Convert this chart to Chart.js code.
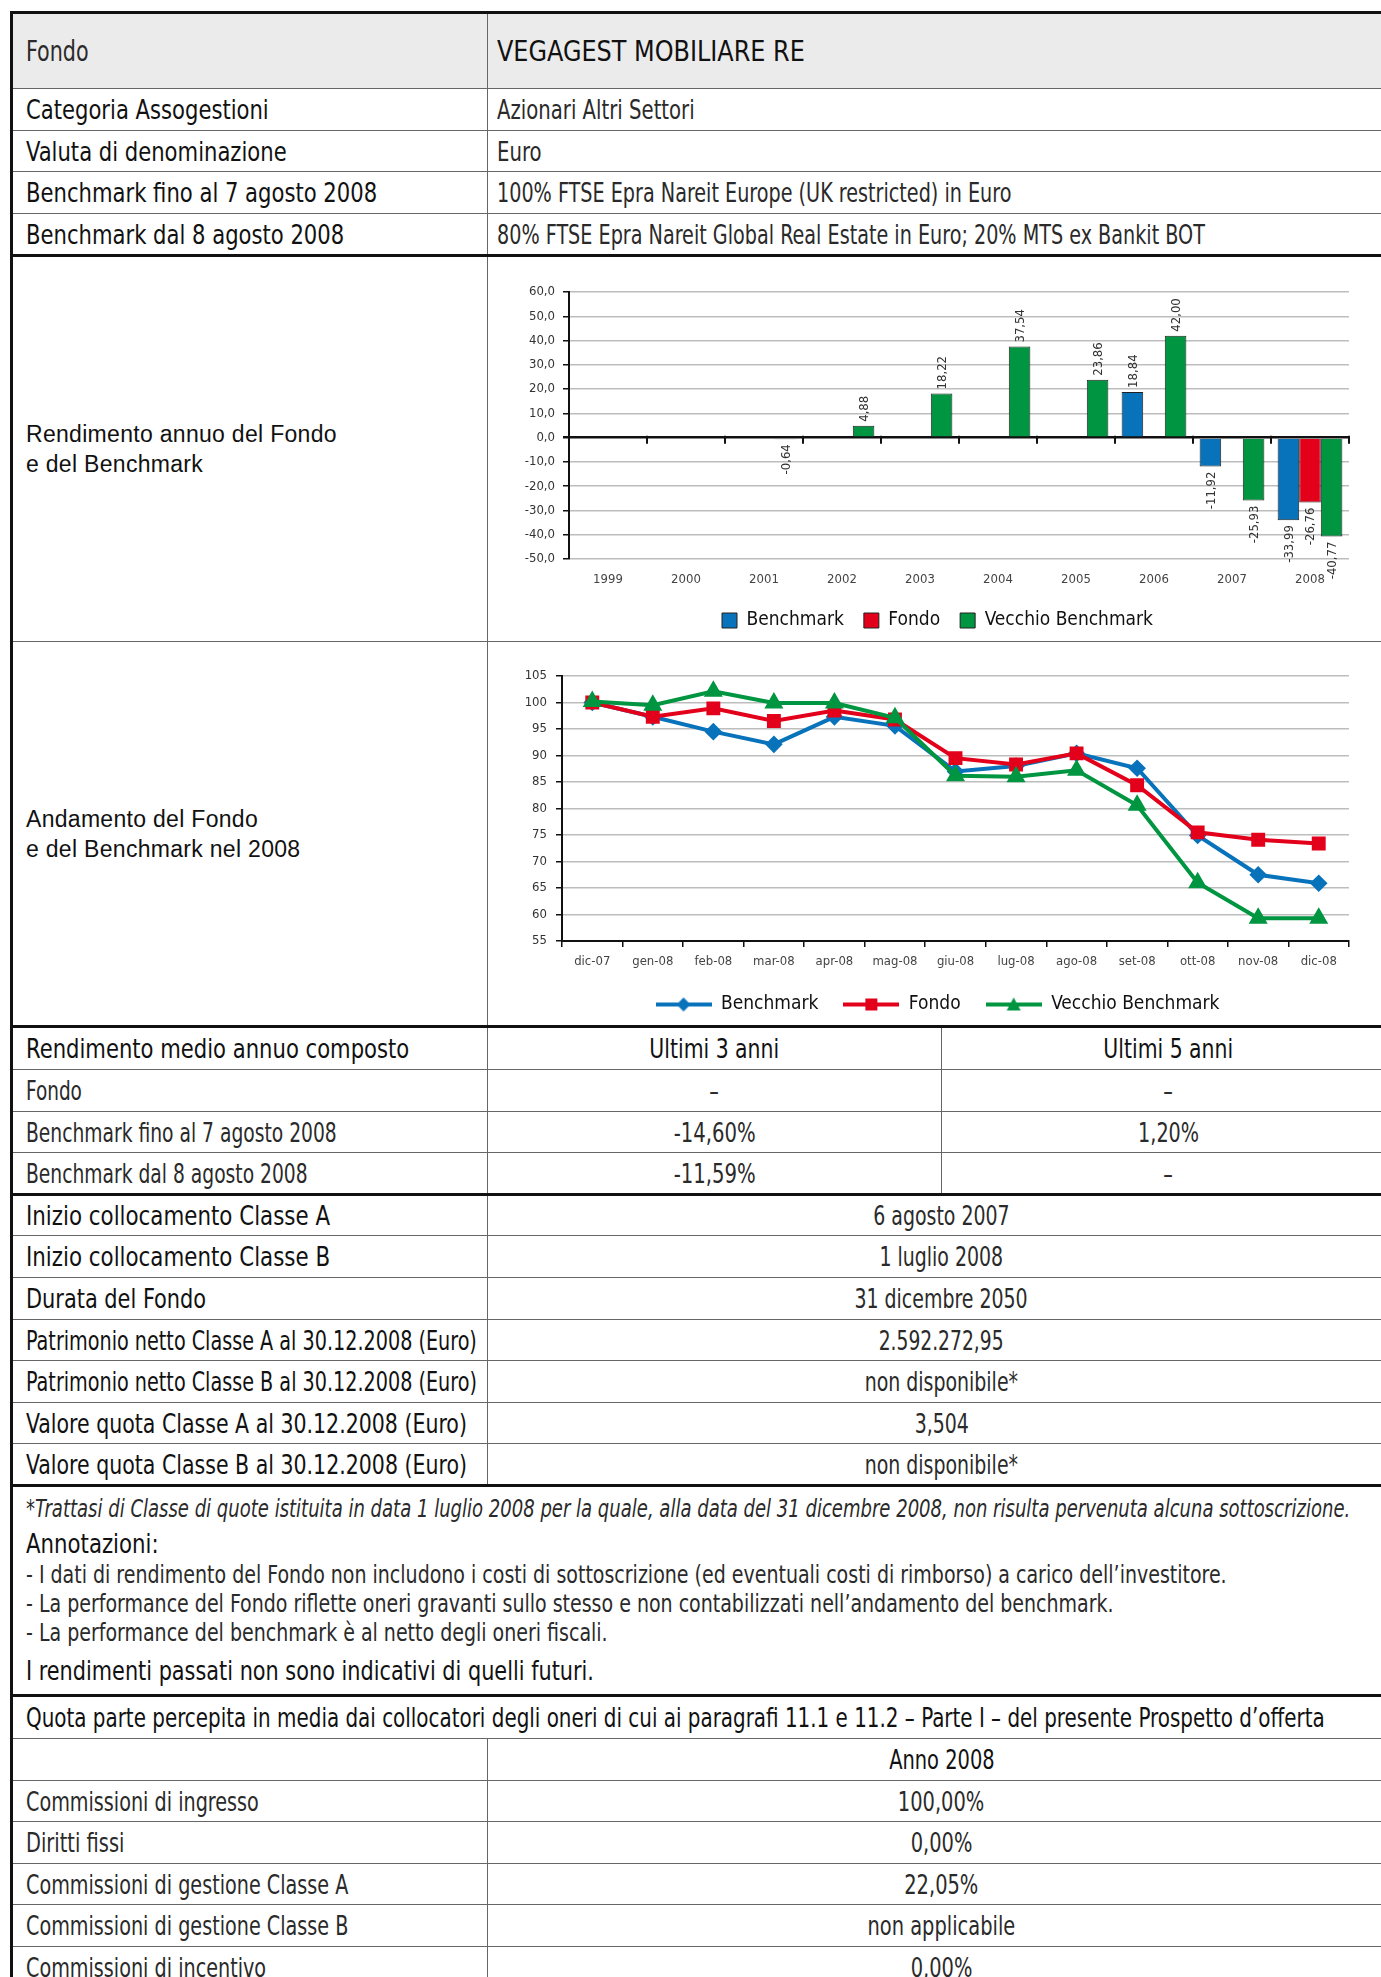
<!DOCTYPE html>
<html lang="it">
<head>
<meta charset="UTF-8">
<title>VEGAGEST MOBILIARE RE</title>
<script src="https://cdn.jsdelivr.net/npm/chart.js@4.4.1/dist/chart.umd.min.js"></script>
<style>
  html, body { margin: 0; padding: 0; background: #fff; }
  body { width: 1381px; height: 1977px; overflow: hidden; position: relative;
         font-family: "DejaVu Sans Condensed", "Liberation Sans Narrow", "Arial Narrow", sans-serif; color: #161616; }
  #sheet { position: absolute; left: 10px; top: 11px; width: 1384px; border-collapse: collapse; table-layout: fixed; }
  #sheet td { border: 1px solid #666; padding: 0 0 0 13px; font-size: 27px; white-space: nowrap; vertical-align: middle; }
  #sheet td + td { padding-left: 9px; }
  #sheet td:first-child { border-left: 3px solid #111; }
  #sheet tr.head td { background: #ebebeb; border-top: 3px solid #111; font-size: 28px; }
  #sheet tr.thick td { border-bottom: 3px solid #111; }
  #sheet td.c { text-align: center; padding-left: 0; }
  #sheet td.lab { font-family: "Liberation Sans", Arial, sans-serif; font-size: 23px; letter-spacing: 0.3px; line-height: 30px; color: #111; }
  #sheet td.cc { padding: 0; vertical-align: top; }
  #sheet td.cc canvas { display: block; }
  #sheet td.notes { vertical-align: top; padding-top: 4px; }
  /* condensed look: squeeze the glyphs horizontally */
  .m, .l { display: inline-block; transform-origin: 0 50%; }
  .m { transform: scaleX(var(--k, 0.87)); color: #111; }
  .l { transform: scaleX(var(--k, 0.79)); color: #2a2a2a; }
  td.c .m, td.c .l { transform-origin: 50% 50%; }
  .foot { font-style: italic; font-size: 24px; line-height: 36px; }
  .ann { font-size: 26px; line-height: 34px; }
  .bul { font-size: 24px; line-height: 29px; }
  .last { font-size: 26px; line-height: 46px; }
</style>
</head>
<body>
<table id="sheet">
  <colgroup><col style="width:476px"><col style="width:454px"><col style="width:454px"></colgroup>
  <tr class="head" style="height:76px"><td><span class="l" style="--k:0.82">Fondo</span></td><td colspan="2"><span class="m" style="--k:0.95">VEGAGEST MOBILIARE RE</span></td></tr>
  <tr style="height:42px"><td><span class="m">Categoria Assogestioni</span></td><td colspan="2"><span class="l" style="--k:0.81">Azionari Altri Settori</span></td></tr>
  <tr style="height:41px"><td><span class="m">Valuta di denominazione</span></td><td colspan="2"><span class="l" style="--k:0.81">Euro</span></td></tr>
  <tr style="height:42px"><td><span class="m">Benchmark fino al 7 agosto 2008</span></td><td colspan="2"><span class="l">100% FTSE Epra Nareit Europe (UK restricted) in Euro</span></td></tr>
  <tr class="thick" style="height:42px"><td><span class="m">Benchmark dal 8 agosto 2008</span></td><td colspan="2"><span class="l">80% FTSE Epra Nareit Global Real Estate in Euro; 20% MTS ex Bankit BOT</span></td></tr>
  <tr style="height:386px"><td class="lab">Rendimento annuo del Fondo<br>e del Benchmark</td><td colspan="2" class="cc"><canvas id="barChart" width="899" height="384"></canvas></td></tr>
  <tr class="thick" style="height:385px"><td class="lab">Andamento del Fondo<br>e del Benchmark nel 2008</td><td colspan="2" class="cc"><canvas id="lineChart" width="899" height="382"></canvas></td></tr>
  <tr style="height:43px"><td><span class="m">Rendimento medio annuo composto</span></td><td class="c"><span class="m" style="--k:0.84">Ultimi 3 anni</span></td><td class="c"><span class="m" style="--k:0.84">Ultimi 5 anni</span></td></tr>
  <tr style="height:42px"><td><span class="l" style="--k:0.76">Fondo</span></td><td class="c"><span class="l">–</span></td><td class="c"><span class="l">–</span></td></tr>
  <tr style="height:41px"><td><span class="l" style="--k:0.77">Benchmark fino al 7 agosto 2008</span></td><td class="c"><span class="l" style="--k:0.81">-14,60%</span></td><td class="c"><span class="l">1,20%</span></td></tr>
  <tr class="thick" style="height:42px"><td><span class="l" style="--k:0.77">Benchmark dal 8 agosto 2008</span></td><td class="c"><span class="l" style="--k:0.81">-11,59%</span></td><td class="c"><span class="l">–</span></td></tr>
  <tr style="height:41px"><td><span class="m" style="--k:0.88">Inizio collocamento Classe A</span></td><td colspan="2" class="c"><span class="l" style="--k:0.78">6 agosto 2007</span></td></tr>
  <tr style="height:42px"><td><span class="m" style="--k:0.88">Inizio collocamento Classe B</span></td><td colspan="2" class="c"><span class="l" style="--k:0.78">1 luglio 2008</span></td></tr>
  <tr style="height:42px"><td><span class="m" style="--k:0.86">Durata del Fondo</span></td><td colspan="2" class="c"><span class="l" style="--k:0.78">31 dicembre 2050</span></td></tr>
  <tr style="height:41px"><td><span class="m" style="--k:0.79">Patrimonio netto Classe A al 30.12.2008 (Euro)</span></td><td colspan="2" class="c"><span class="l" style="--k:0.77">2.592.272,95</span></td></tr>
  <tr style="height:42px"><td><span class="m" style="--k:0.79">Patrimonio netto Classe B al 30.12.2008 (Euro)</span></td><td colspan="2" class="c"><span class="l" style="--k:0.78">non disponibile*</span></td></tr>
  <tr style="height:41px"><td><span class="m" style="--k:0.845">Valore quota Classe A al 30.12.2008 (Euro)</span></td><td colspan="2" class="c"><span class="l" style="--k:0.78">3,504</span></td></tr>
  <tr class="thick" style="height:42px"><td><span class="m" style="--k:0.845">Valore quota Classe B al 30.12.2008 (Euro)</span></td><td colspan="2" class="c"><span class="l" style="--k:0.78">non disponibile*</span></td></tr>
  <tr class="thick" style="height:210px"><td colspan="3" class="notes">
    <div class="foot"><span class="l" style="--k:0.835">*Trattasi di Classe di quote istituita in data 1 luglio 2008 per la quale, alla data del 31 dicembre 2008, non risulta pervenuta alcuna sottoscrizione.</span></div>
    <div class="ann"><span class="m" style="--k:0.91">Annotazioni:</span></div>
    <div class="bul"><span class="l" style="--k:0.88">- I dati di rendimento del Fondo non includono i costi di sottoscrizione (ed eventuali costi di rimborso) a carico dell’investitore.</span></div>
    <div class="bul"><span class="l" style="--k:0.88">- La performance del Fondo riflette oneri gravanti sullo stesso e non contabilizzati nell’andamento del benchmark.</span></div>
    <div class="bul"><span class="l" style="--k:0.88">- La performance del benchmark è al netto degli oneri fiscali.</span></div>
    <div class="last"><span class="m" style="--k:0.89">I rendimenti passati non sono indicativi di quelli futuri.</span></div>
  </td></tr>
  <tr style="height:43px"><td colspan="3"><span class="m" style="--k:0.82">Quota parte percepita in media dai collocatori degli oneri di cui ai paragrafi 11.1 e 11.2 – Parte I – del presente Prospetto d’offerta</span></td></tr>
  <tr style="height:42px"><td></td><td colspan="2" class="c"><span class="m" style="--k:0.8">Anno 2008</span></td></tr>
  <tr style="height:41px"><td><span class="l">Commissioni di ingresso</span></td><td colspan="2" class="c"><span class="l" style="--k:0.8">100,00%</span></td></tr>
  <tr style="height:42px"><td><span class="l" style="--k:0.8">Diritti fissi</span></td><td colspan="2" class="c"><span class="l" style="--k:0.8">0,00%</span></td></tr>
  <tr style="height:41px"><td><span class="l">Commissioni di gestione Classe A</span></td><td colspan="2" class="c"><span class="l" style="--k:0.8">22,05%</span></td></tr>
  <tr style="height:42px"><td><span class="l">Commissioni di gestione Classe B</span></td><td colspan="2" class="c"><span class="l" style="--k:0.8">non applicabile</span></td></tr>
  <tr style="height:42px"><td><span class="l">Commissioni di incentivo</span></td><td colspan="2" class="c"><span class="l" style="--k:0.8">0,00%</span></td></tr>
</table>

<script>
// annual returns (bar chart)
var barYears = ['1999', '2000', '2001', '2002', '2003', '2004', '2005', '2006', '2007', '2008'];
var barBenchmark = [null, null, null, null, null, null, null, 18.84, -11.92, -33.99];
var barFondo = [null, null, null, null, null, null, null, null, null, -26.76];
var barVecchio = [null, null, -0.64, 4.88, 18.22, 37.54, 23.86, 42.00, -25.93, -40.77];

// 2008 performance (line chart)
var lineMonths = ['dic-07', 'gen-08', 'feb-08', 'mar-08', 'apr-08', 'mag-08', 'giu-08', 'lug-08', 'ago-08', 'set-08', 'ott-08', 'nov-08', 'dic-08'];
var lineBenchmark = [100.0, 97.3, 94.5, 92.1, 97.3, 95.6, 87.0, 88.0, 90.4, 87.6, 74.9, 67.5, 65.9];
var lineFondo = [100.0, 97.3, 98.9, 96.5, 98.5, 96.8, 89.5, 88.3, 90.4, 84.4, 75.5, 74.1, 73.4];
var lineVecchio = [100.2, 99.5, 102.1, 99.9, 99.9, 97.1, 86.2, 86.0, 87.2, 80.6, 66.0, 59.3, 59.3];

var NARROW = '"DejaVu Sans Condensed", "Liberation Sans Narrow", "Arial Narrow", sans-serif';
var BLUE = '#0873bb';
var RED = '#e3001b';
var GREEN = '#009540';

Chart.defaults.font.family = NARROW;
Chart.defaults.animation = false;

function commaFmt(v, d) {
  return v.toFixed(d).replace('.', ',');
}

/* rotated value labels on the bars */
var barValueLabels = {
  id: 'barValueLabels',
  afterDatasetsDraw: function(chart) {
    var ctx = chart.ctx;
    chart.data.datasets.forEach(function(ds, i) {
      var meta = chart.getDatasetMeta(i);
      meta.data.forEach(function(bar, j) {
        var v = ds.data[j];
        if (v == null) {
          return;
        }
        ctx.save();
        ctx.translate(bar.x + 1, v >= 0 ? bar.y - 4 : bar.y + 5);
        ctx.rotate(-Math.PI / 2);
        ctx.textAlign = v >= 0 ? 'left' : 'right';
        ctx.textBaseline = 'middle';
        ctx.font = '13px ' + NARROW;
        ctx.fillStyle = '#333';
        ctx.fillText(commaFmt(v, 2), 0, 0);
        ctx.restore();
      });
    });
  }
};

/* small tick marks on the zero line between the years */
var zeroTicks = {
  id: 'zeroTicks',
  afterDraw: function(chart) {
    var xs = chart.scales.x, ys = chart.scales.y, ctx = chart.ctx;
    var y0 = ys.getPixelForValue(0);
    var n = chart.data.labels.length;
    ctx.save();
    ctx.strokeStyle = '#111';
    ctx.lineWidth = 2;
    for (var i = 1; i <= n; i++) {
      var x = xs.left + i * xs.width / n;
      ctx.beginPath();
      ctx.moveTo(x, y0 - 2);
      ctx.lineTo(x, y0 + 6);
      ctx.stroke();
    }
    ctx.restore();
  }
};

var spacerAxis = {
  position: 'right', display: true,
  grid: { display: false, drawTicks: false },
  border: { display: false },
  ticks: { display: false },
  afterFit: function(s) { s.width = 38; }
};

new Chart(document.getElementById('barChart'), {
  type: 'bar',
  data: {
    labels: barYears,
    datasets: [
      { label: 'Benchmark', data: barBenchmark, backgroundColor: BLUE, borderColor: '#222', borderWidth: 1 },
      { label: 'Fondo', data: barFondo, backgroundColor: RED, borderColor: '#222', borderWidth: 1 },
      { label: 'Vecchio Benchmark', data: barVecchio, backgroundColor: GREEN, borderColor: '#222', borderWidth: 1 }
    ]
  },
  options: {
    responsive: false,
    categoryPercentage: 0.83,
    barPercentage: 1.0,
    layout: { padding: { top: 35, right: 0, bottom: 1, left: 0 } },
    plugins: {
      legend: {
        position: 'bottom',
        labels: { boxWidth: 15, boxHeight: 15, color: '#111', padding: 20, font: { size: 19 } }
      },
      tooltip: { enabled: false }
    },
    scales: {
      x: {
        grid: { display: false },
        border: { display: false },
        ticks: { color: '#444', padding: 5, font: { size: 13 } },
        afterFit: function(s) { s.height = 32; }
      },
      y: {
        min: -50, max: 60,
        ticks: { stepSize: 10, color: '#333', padding: 8, font: { size: 13 },
                 callback: function(v) { return commaFmt(v, 1); } },
        grid: {
          color: function(c) { return c.tick && c.tick.value === 0 ? '#111' : '#bdbdbd'; },
          lineWidth: function(c) { return c.tick && c.tick.value === 0 ? 2.5 : 1.5; },
          tickColor: '#111', tickLength: 6
        },
        border: { color: '#111', width: 2 },
        afterFit: function(s) { s.width = 81; }
      },
      yR: spacerAxis
    }
  },
  plugins: [barValueLabels, zeroTicks]
});

/* legend sample: line with the marker in the middle */
function legendSample(color, shape) {
  var c = document.createElement('canvas');
  c.width = 56; c.height = 18;
  var g = c.getContext('2d');
  g.strokeStyle = color; g.fillStyle = color; g.lineWidth = 4;
  g.beginPath(); g.moveTo(0, 9); g.lineTo(56, 9); g.stroke();
  g.beginPath();
  if (shape === 'rectRot') {
    g.moveTo(28, 2); g.lineTo(35, 9); g.lineTo(28, 16); g.lineTo(21, 9);
  } else if (shape === 'rect') {
    g.rect(22, 3, 12, 12);
  } else {
    g.moveTo(28, 2); g.lineTo(35, 15); g.lineTo(21, 15);
  }
  g.closePath(); g.fill();
  return c;
}

var lineStyles = [
  { color: BLUE, shape: 'rectRot', radius: 6 },
  { color: RED, shape: 'rect', radius: 7 },
  { color: GREEN, shape: 'triangle', radius: 7 }
];

new Chart(document.getElementById('lineChart'), {
  type: 'line',
  data: {
    labels: lineMonths,
    datasets: [
      { label: 'Benchmark', data: lineBenchmark, order: 3 },
      { label: 'Fondo', data: lineFondo, order: 2 },
      { label: 'Vecchio Benchmark', data: lineVecchio, order: 1 }
    ].map(function(ds, i) {
      var st = lineStyles[i];
      ds.borderColor = st.color;
      ds.backgroundColor = st.color;
      ds.pointBackgroundColor = st.color;
      ds.pointBorderColor = st.color;
      ds.pointStyle = st.shape;
      ds.pointRadius = st.radius;
      ds.borderWidth = 4;
      ds.tension = 0;
      return ds;
    })
  },
  options: {
    responsive: false,
    layout: { padding: { top: 34, right: 0, bottom: 0, left: 0 } },
    plugins: {
      legend: {
        position: 'bottom',
        labels: {
          usePointStyle: true, pointStyleWidth: 56, color: '#111', padding: 25, font: { size: 19 },
          generateLabels: function(chart) {
            return chart.data.datasets.map(function(ds, i) {
              return { text: ds.label, datasetIndex: i, fillStyle: ds.borderColor, strokeStyle: ds.borderColor,
                       lineWidth: 0, hidden: false, fontColor: '#111',
                       pointStyle: legendSample(lineStyles[i].color, lineStyles[i].shape) };
            });
          }
        }
      },
      tooltip: { enabled: false }
    },
    scales: {
      x: {
        offset: true,
        grid: { display: true, drawOnChartArea: false, offset: true, color: '#111', lineWidth: 1.5, tickLength: 6 },
        border: { color: '#111', width: 2 },
        ticks: { color: '#444', padding: 7, font: { size: 13 } },
        afterFit: function(s) { s.height = 29; }
      },
      y: {
        min: 55, max: 105,
        ticks: { stepSize: 5, color: '#333', padding: 9, font: { size: 13 } },
        grid: { color: '#bdbdbd', lineWidth: 1.5, tickColor: '#111', tickLength: 6 },
        border: { color: '#111', width: 2 },
        afterFit: function(s) { s.width = 74; }
      },
      yR: spacerAxis
    }
  }
});
</script>
</body>
</html>
